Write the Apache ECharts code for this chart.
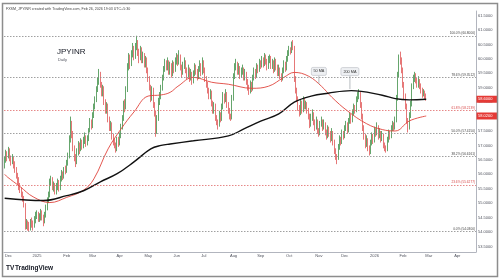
<!DOCTYPE html>
<html><head><meta charset="utf-8">
<script src="https://cdn.jsdelivr.net/npm/echarts@6/dist/echarts.min.js"></script>
<style>html,body{margin:0;padding:0;background:#fff}#c{width:500px;height:280px}</style>
</head><body><div id="c"></div>
<script>
// ---- data ----
const startDate = '2024-11-27', endDate = '2026-04-21';
const firstOpen = 56.30;
const closes = [
56.45,56.70,56.60,56.85,56.55,56.40,56.55,56.30,56.20,55.95,
55.80,55.55,55.45,55.30,55.15,54.95,54.25,54.30,54.20,54.15,
54.35,54.30,54.20,54.40,54.55,54.60,54.45,54.50,54.65,54.50,
54.35,54.60,54.80,55.10,55.25,55.70,55.80,55.55,55.60,55.40,
55.55,55.70,55.50,55.85,56.00,55.90,56.15,56.10,56.35,56.60,
57.20,57.75,57.40,56.90,56.60,56.40,56.75,57.00,56.85,57.10,
56.95,57.15,57.30,57.05,57.20,57.50,57.80,57.65,58.00,58.30,
58.55,58.90,59.20,59.45,59.10,58.80,58.95,58.50,58.20,58.35,
57.90,57.60,57.70,57.30,57.10,57.00,56.85,57.20,57.05,57.30,
57.60,57.90,58.40,58.30,58.90,59.70,60.05,59.80,60.15,60.35,
60.10,60.40,60.55,60.20,60.00,60.30,59.95,60.10,59.80,59.95,
59.60,59.30,59.00,58.60,58.90,58.40,58.10,57.50,57.90,58.50,
58.70,58.95,59.30,59.60,59.85,59.70,59.90,59.55,59.75,59.45,
59.80,59.60,59.90,60.05,59.85,60.10,59.70,59.50,59.75,59.90,
59.60,59.40,59.65,59.30,59.50,59.20,59.45,59.70,59.55,59.35,
59.60,59.80,59.50,59.90,59.60,59.30,59.10,58.90,58.70,58.80,
58.45,58.20,58.35,57.95,57.80,57.70,58.05,57.90,58.30,58.70,
58.55,58.80,58.40,58.20,58.00,57.95,58.60,59.35,59.70,59.85,
59.55,59.70,59.40,59.55,59.65,59.35,59.50,59.20,59.00,58.85,
59.10,58.95,59.30,59.55,59.40,59.70,59.60,59.85,59.75,59.95,
59.80,60.05,59.90,59.70,59.95,60.00,59.75,59.85,59.60,59.90,
59.70,59.50,59.65,59.40,59.30,59.55,59.80,59.65,59.95,60.15,
60.30,60.25,60.45,60.40,59.30,58.90,58.60,58.30,58.10,58.45,
58.20,58.55,58.35,58.40,58.20,58.00,57.70,57.95,58.10,57.80,
57.60,57.85,57.50,57.40,57.70,57.85,57.60,57.75,57.45,57.30,
57.55,57.40,57.20,57.45,57.10,56.80,56.60,56.55,56.90,57.20,
57.10,57.40,57.30,57.55,57.70,57.50,57.80,58.00,57.85,58.10,
58.30,58.20,58.55,58.70,58.80,58.40,58.00,57.60,57.30,57.00,
57.20,56.90,56.75,57.05,57.30,57.15,57.50,57.40,57.65,57.30,
57.45,57.20,57.35,57.00,56.90,56.85,57.15,57.40,57.30,57.55,
57.70,57.60,57.85,58.60,59.40,60.00,59.95,59.60,59.10,58.70,
58.35,57.85,57.60,58.00,58.40,59.00,59.30,59.45,59.25,59.10,
59.25,59.05,58.90,58.75,58.85,58.70,58.60];
const highs = [
56.60,56.85,56.80,56.95,56.90,56.65,56.70,56.60,56.45,56.25,
56.05,55.90,55.70,55.55,55.40,55.25,55.00,54.45,54.40,54.35,
54.45,54.50,54.40,54.55,54.70,54.75,54.70,54.65,54.80,54.75,
54.60,54.70,54.95,55.20,55.40,55.85,55.95,55.90,55.75,55.70,
55.70,55.85,55.80,55.95,56.15,56.10,56.25,56.30,56.50,56.75,
57.35,58.00,57.85,57.50,57.00,56.70,56.90,57.15,57.10,57.25,
57.20,57.30,57.45,57.35,57.35,57.60,57.95,57.90,58.15,58.45,
58.70,59.05,59.35,59.65,59.55,59.20,59.10,59.05,58.60,58.50,
58.45,58.00,57.85,57.80,57.40,57.25,57.10,57.30,57.30,57.45,
57.75,58.05,58.55,58.60,59.05,59.85,60.20,60.15,60.30,60.55,
60.45,60.55,60.80,60.65,60.35,60.45,60.40,60.25,60.20,60.10,
60.05,59.70,59.40,59.10,59.05,59.00,58.50,58.20,58.05,58.65,
58.85,59.10,59.45,59.75,60.00,59.95,60.05,59.95,59.90,59.85,
59.95,59.90,60.05,60.20,60.15,60.30,60.15,59.80,59.90,60.05,
59.95,59.70,59.80,59.70,59.65,59.55,59.60,59.85,59.80,59.65,
59.75,59.95,59.85,60.05,59.95,59.70,59.40,59.20,59.00,58.95,
58.90,58.55,58.50,58.45,58.05,57.90,58.20,58.15,58.45,58.85,
58.80,58.95,58.85,58.50,58.30,58.10,58.75,59.50,59.85,60.00,
59.90,59.85,59.75,59.70,59.80,59.70,59.65,59.55,59.30,59.10,
59.25,59.20,59.45,59.70,59.65,59.85,59.80,60.00,59.95,60.10,
60.05,60.20,60.15,60.00,60.10,60.15,60.10,60.00,59.95,60.05,
60.00,59.80,59.80,59.70,59.50,59.70,59.95,59.90,60.10,60.30,
60.45,60.40,60.60,60.65,60.45,59.40,59.00,58.70,58.40,58.60,
58.55,58.70,58.65,58.55,58.50,58.30,58.10,58.10,58.25,58.15,
57.90,58.00,57.90,57.60,57.85,58.00,57.90,57.90,57.80,57.55,
57.70,57.65,57.50,57.60,57.50,57.20,56.90,56.70,57.05,57.35,
57.30,57.55,57.50,57.70,57.85,57.80,57.95,58.15,58.10,58.25,
58.45,58.40,58.70,58.85,58.95,58.85,58.50,58.10,57.70,57.40,
57.35,57.25,57.00,57.20,57.45,57.40,57.65,57.60,57.80,57.70,
57.60,57.50,57.50,57.40,57.10,57.00,57.30,57.55,57.50,57.70,
57.85,57.80,58.00,58.75,59.55,60.15,60.25,60.05,59.70,59.20,
58.80,58.45,57.95,58.15,58.55,59.15,59.45,59.55,59.50,59.35,
59.40,59.30,59.15,59.00,58.95,58.90,58.80];
const lows = [
56.20,56.40,56.45,56.55,56.45,56.30,56.35,56.20,56.05,55.85,
55.65,55.45,55.35,55.20,55.05,54.85,54.08,54.10,54.05,54.03,
54.05,54.15,54.05,54.15,54.30,54.45,54.35,54.35,54.40,54.40,
54.20,54.30,54.50,54.75,55.00,55.20,55.60,55.45,55.40,55.30,
55.30,55.45,55.40,55.45,55.75,55.80,55.85,56.00,56.05,56.30,
56.55,57.10,57.25,56.80,56.45,56.25,56.35,56.65,56.70,56.80,
56.85,56.90,57.05,56.95,57.00,57.15,57.45,57.55,57.60,57.95,
58.25,58.50,58.85,59.10,59.00,58.70,58.70,58.40,58.10,58.10,
57.80,57.50,57.50,57.20,57.00,56.90,56.75,56.80,56.95,57.00,
57.25,57.55,57.85,58.15,58.25,58.85,59.60,59.65,59.75,60.05,
59.95,60.00,60.30,60.10,59.85,59.95,59.85,59.85,59.70,59.70,
59.50,59.20,58.90,58.50,58.55,58.30,58.00,57.30,57.40,57.85,
58.40,58.60,58.90,59.25,59.55,59.60,59.60,59.45,59.45,59.35,
59.40,59.50,59.55,59.80,59.75,59.80,59.60,59.35,59.45,59.65,
59.50,59.30,59.35,59.20,59.25,59.10,59.15,59.40,59.45,59.25,
59.30,59.55,59.40,59.45,59.50,59.20,59.00,58.80,58.60,58.60,
58.35,58.10,58.10,57.85,57.70,57.55,57.65,57.80,57.85,58.25,
58.45,58.50,58.30,58.10,57.90,57.85,57.90,58.55,59.30,59.60,
59.45,59.45,59.30,59.35,59.45,59.25,59.25,59.10,58.90,58.75,
58.80,58.85,58.90,59.25,59.30,59.35,59.50,59.55,59.65,59.70,
59.70,59.75,59.80,59.60,59.65,59.85,59.65,59.65,59.50,59.55,
59.60,59.40,59.40,59.30,59.20,59.25,59.50,59.55,59.60,59.90,
60.10,60.15,60.20,60.30,59.20,58.80,58.50,58.20,58.00,58.05,
58.10,58.15,58.25,58.25,58.10,57.90,57.60,57.65,57.85,57.70,
57.50,57.55,57.40,57.30,57.35,57.65,57.50,57.55,57.35,57.20,
57.25,57.30,57.10,57.15,57.00,56.70,56.50,56.35,56.50,56.85,
57.00,57.05,57.20,57.25,57.50,57.40,57.45,57.75,57.75,57.80,
58.05,58.10,58.15,58.50,58.60,58.30,57.90,57.50,57.20,56.90,
56.95,56.80,56.65,56.70,57.00,57.05,57.10,57.30,57.35,57.20,
57.25,57.10,57.15,56.90,56.80,56.75,56.80,57.10,57.20,57.25,
57.50,57.50,57.55,57.80,58.55,59.35,59.80,59.50,59.00,58.60,
58.25,57.75,57.45,57.55,57.95,58.35,58.95,59.20,59.15,59.00,
59.00,58.95,58.80,58.65,58.70,58.60,58.55];
// moving averages: [bar index, value]
const ma50 = [[0,56.00],[2,55.91],[12,55.57],[22,55.22],[35,55.02],[48,55.20],[61,55.45],[69,55.84],[80,56.88],[90,57.57],[100,58.16],[111,58.71],[121,58.75],[128,58.84],[134,59.05],[146,59.36],[160,59.19],[173,59.12],[191,58.98],[204,59.05],[216,59.36],[224,59.53],[235,59.40],[245,59.05],[253,58.67],[265,58.20],[280,57.75],[292,57.55],[302,57.50],[313,57.85],[326,58.02]];
const ma200 = [[0,55.17],[30,55.09],[48,55.26],[61,55.43],[74,55.74],[87,56.02],[100,56.43],[113,56.88],[121,57.00],[128,57.05],[146,57.16],[173,57.33],[185,57.57],[198,57.84],[212,58.09],[224,58.50],[237,58.71],[250,58.81],[268,58.90],[292,58.74],[302,58.62],[313,58.58],[326,58.60]];
const fibNames = ['100.0%','78.6%','61.8%','50.0%','38.2%','23.6%','0.0%'];
const fibLevels = [60.8000,59.3512,58.2139,57.4150,56.6161,55.6277,54.0300];
const fibRed = [false,false,true,false,false,true,false];
const yTicks = [53.5,54,54.5,55,55.5,56,56.5,57,57.5,58,58.5,59,59.5,60,60.5,61,61.5];
const monthNames = ['Jan','Feb','Mar','Apr','May','Jun','Jul','Aug','Sep','Oct','Nov','Dec'];
const callouts = [{text:'50 MA', i:243, v:59.08, w:15, dy:10}, {text:'200 MA', i:267, v:58.90, w:18, dy:15}];

// ---- categories (weekdays) ----
const dates = [], monthStart = [];
{
  let d = new Date(startDate + 'T00:00:00Z'); const e = new Date(endDate + 'T00:00:00Z'); let lastM = -1;
  while (d <= e) {
    const wd = d.getUTCDay();
    if (wd !== 0 && wd !== 6) {
      const m = d.getUTCMonth();
      dates.push(d.toISOString().slice(0,10));
      monthStart.push(lastM !== -1 && m !== lastM);
      lastM = m;
    }
    d = new Date(d.getTime() + 86400000);
  }
}
const candles = closes.map((c, i) => [i === 0 ? firstOpen : closes[i-1], c, lows[i], highs[i]]);

const chart = echarts.init(document.getElementById('c'));
const axisTxt = {fontSize:4, color:'#50535e', fontFamily:'Liberation Sans'};
chart.setOption({
  animation:false,
  backgroundColor:'#ffffff',
  grid:{left:4, right:24, top:11, bottom:28},
  xAxis:{type:'category', data:dates, boundaryGap:true,
    axisLine:{lineStyle:{color:'#b2b5be', width:1}}, axisTick:{show:false},
    splitLine:{show:false},
    axisLabel:Object.assign({}, axisTxt, {margin:2, interval:(i)=>monthStart[i],
      formatter:(v)=>{const m=+v.slice(5,7)-1; return m===0? v.slice(0,4) : monthNames[m];}})},
  yAxis:{type:'value', position:'right', min:53.307, max:61.658, scale:true,
    axisLine:{show:true, lineStyle:{color:'#b2b5be', width:1}}, axisTick:{show:false},
    splitLine:{show:false},
    axisLabel:Object.assign({}, axisTxt, {margin:2, customValues:yTicks, formatter:(v)=>v.toFixed(4)})},
  series:[
    {type:'candlestick', data:candles, barWidth:1,
      itemStyle:{color:'#3f8f48', color0:'#e05555', borderColor:'#3f8f48', borderColor0:'#e05555', borderWidth:0.8},
      markLine:{silent:true, symbol:'none', animation:false,
        data:fibLevels.map((v,k)=>({yAxis:v,
          lineStyle:{color:fibRed[k]?'#e06a6a':'#888', type:[1.5,1.5], width:0.8},
          label:{show:true, position:'insideEndTop', distance:[1,1], fontSize:3.2, color:fibRed[k]?'#d84a4a':'#444',
            formatter:fibNames[k]+' ('+v.toFixed(4)+')'}}))}},
    {type:'line', data:ma50.map(([i,v])=>[dates[i],v]), smooth:0.4, showSymbol:false, z:3,
      lineStyle:{color:'#e0443c', width:0.9}},
    {type:'line', data:ma200.map(([i,v])=>[dates[i],v]), smooth:0.4, showSymbol:false, z:3,
      lineStyle:{color:'#111', width:1.4}}
  ]
});

const px = (i, v) => chart.convertToPixel({xAxisIndex:0, yAxisIndex:0}, [dates[i], v]);
const py = (v) => chart.convertToPixel({yAxisIndex:0}, v);
const g = [];
g.push({type:'rect', shape:{x:2.5, y:3.5, width:495, height:273}, style:{fill:'none', stroke:'#8d8d8d', lineWidth:1.5}, z:100});
g.push({type:'text', x:6, y:6.5, style:{text:'FXSM_JPYINR created with TradingView.com, Feb 26, 2026 19:03 UTC+5:30', fontSize:3.6, fill:'#444', fontFamily:'Liberation Sans'}});
g.push({type:'text', x:57, y:47.5, style:{text:'JPYINR', fontSize:8, fill:'#131722', fontFamily:'Liberation Sans'}});
g.push({type:'text', x:58, y:58, style:{text:'Daily', fontSize:4, fill:'#50535e', fontFamily:'Liberation Sans'}});
g.push({type:'text', x:6, y:265, style:{text:'TV', fontSize:6.5, fontWeight:'bold', fill:'#131722', fontFamily:'Liberation Sans'}});
g.push({type:'text', x:15, y:265, style:{text:'TradingView', fontSize:6.5, fontWeight:'bold', fill:'#131722', fontFamily:'Liberation Sans'}});
callouts.forEach(c => {
  const p = px(c.i, c.v);
  g.push({type:'line', shape:{x1:p[0], y1:p[1]-c.dy, x2:p[0], y2:p[1]-1.5}, style:{stroke:'#9aa0a6', lineWidth:0.7}, z:50});
  g.push({type:'rect', shape:{x:p[0]-c.w/2, y:p[1]-c.dy-8, width:c.w, height:8, r:1.5}, style:{fill:'#eef0f3', stroke:'#b9bcc2', lineWidth:0.6}, z:50});
  g.push({type:'text', x:p[0], y:p[1]-c.dy-4, style:{text:c.text, fontSize:3.8, fill:'#333', align:'center', verticalAlign:'middle', fontFamily:'Liberation Sans'}, z:51});
});
[[closes[closes.length-1]], [ma50[ma50.length-1][1]]].forEach(([v]) => {
  const y = py(v);
  g.push({type:'rect', shape:{x:476.5, y:y-3.5, width:20.5, height:7}, style:{fill:'#e53935'}, z:60});
  g.push({type:'text', x:478, y:y, style:{text:v.toFixed(4), fontSize:4, fill:'#fff', verticalAlign:'middle', fontFamily:'Liberation Sans'}, z:61});
});
chart.setOption({graphic:g});
</script></body></html>
